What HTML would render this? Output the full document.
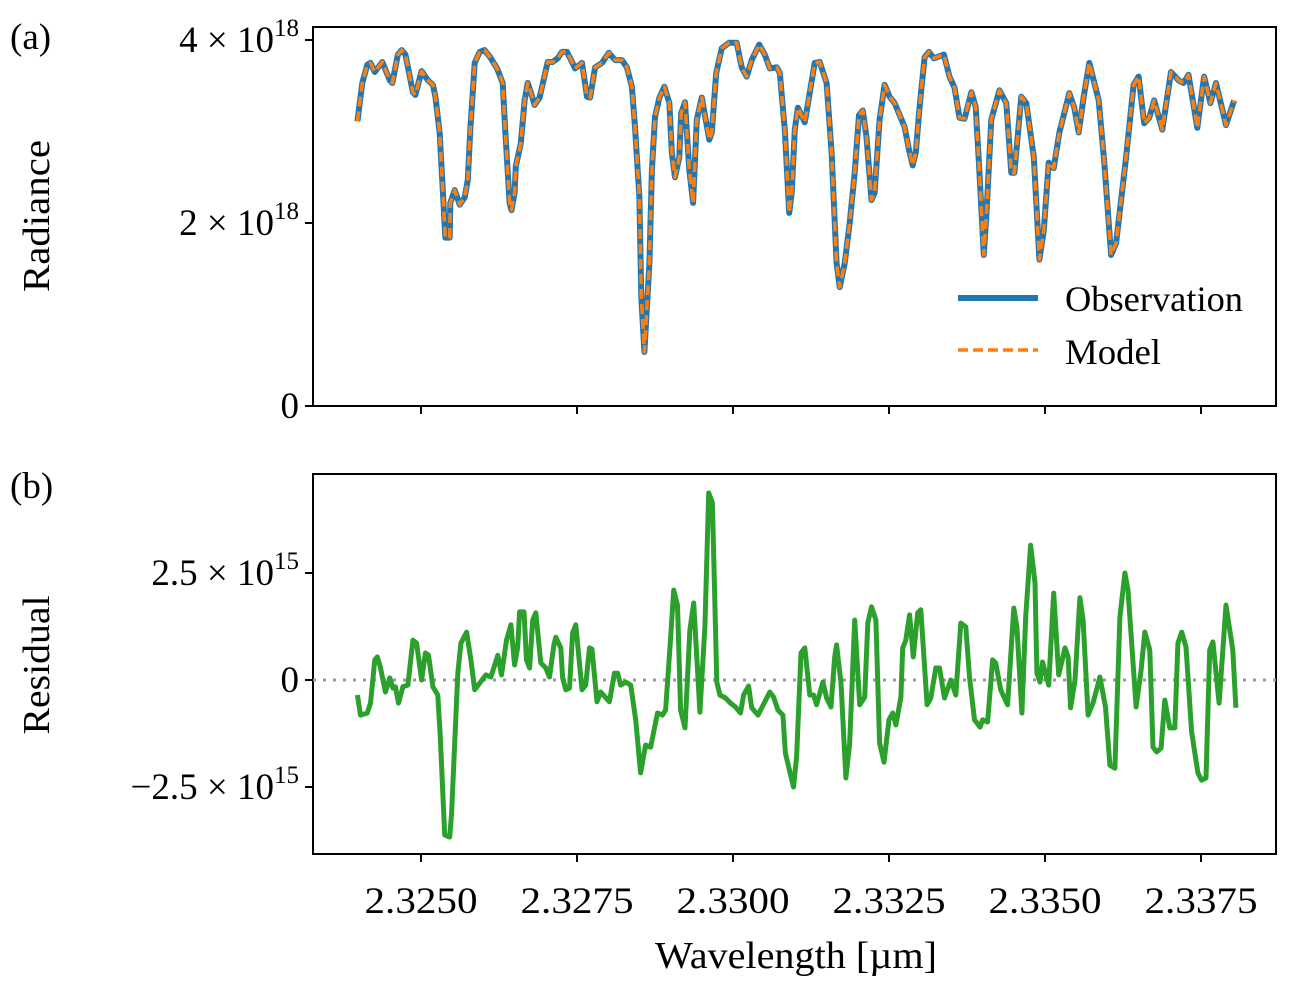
<!DOCTYPE html>
<html><head><meta charset="utf-8"><style>
body{margin:0;background:#fff;}
svg{display:block;font-family:"Liberation Serif",serif;}
</style></head><body>
<svg id="chart" width="1292" height="990" viewBox="0 0 1292 990" xmlns="http://www.w3.org/2000/svg">
<text x="10" y="49" font-size="37">(a)</text>
<text x="10" y="498" font-size="37">(b)</text>
<text transform="translate(49,216) rotate(-90)" text-anchor="middle" font-size="38" textLength="152" lengthAdjust="spacingAndGlyphs">Radiance</text>
<text transform="translate(49,665) rotate(-90)" text-anchor="middle" font-size="38" textLength="139" lengthAdjust="spacingAndGlyphs">Residual</text>
<text x="796" y="968" text-anchor="middle" font-size="38" textLength="282" lengthAdjust="spacingAndGlyphs">Wavelength [µm]</text>
<g id="gtop"></g>
<g id="gbot"></g>
<g>
<line x1="958" y1="298" x2="1038" y2="298" stroke="#1f77b4" stroke-width="6"/>
<text x="1065" y="311" font-size="36" textLength="178" lengthAdjust="spacingAndGlyphs">Observation</text>
<line x1="958" y1="350" x2="1038" y2="350" stroke="#ff7f0e" stroke-width="3.5" stroke-dasharray="10,5"/>
<text x="1065" y="364" font-size="36" textLength="96" lengthAdjust="spacingAndGlyphs">Model</text>
</g>
</svg>
<script>
const obsWl=[2.32398,2.32406,2.32414,2.32419,2.32426,2.32438,2.32450,2.32454,2.32463,2.32469,2.32475,2.32487,2.32491,2.32501,2.32511,2.32519,2.32523,2.32530,2.32535,2.32539,2.32546,2.32547,2.32554,2.32562,2.32570,2.32575,2.32579,2.32586,2.32594,2.32602,2.32611,2.32622,2.32631,2.32635,2.32642,2.32645,2.32650,2.32652,2.32660,2.32666,2.32671,2.32676,2.32682,2.32690,2.32703,2.32711,2.32719,2.32726,2.32734,2.32742,2.32747,2.32758,2.32766,2.32771,2.32779,2.32790,2.32801,2.32811,2.32822,2.32830,2.32838,2.32843,2.32850,2.32853,2.32858,2.32866,2.32870,2.32875,2.32882,2.32890,2.32898,2.32902,2.32907,2.32914,2.32917,2.32923,2.32930,2.32936,2.32942,2.32950,2.32962,2.32966,2.32973,2.32982,2.32994,2.33006,2.33014,2.33022,2.33030,2.33042,2.33051,2.33059,2.33070,2.33075,2.33083,2.33090,2.33094,2.33099,2.33104,2.33115,2.33122,2.33131,2.33139,2.33150,2.33158,2.33166,2.33171,2.33179,2.33187,2.33195,2.33202,2.33208,2.33214,2.33222,2.33227,2.33235,2.33243,2.33251,2.33259,2.33275,2.33282,2.33288,2.33293,2.33299,2.33307,2.33314,2.33322,2.33338,2.33347,2.33355,2.33363,2.33371,2.33382,2.33389,2.33394,2.33402,2.33406,2.33414,2.33427,2.33438,2.33446,2.33451,2.33462,2.33470,2.33482,2.33491,2.33498,2.33506,2.33514,2.33523,2.33539,2.33547,2.33554,2.33562,2.33571,2.33586,2.33595,2.33606,2.33614,2.33630,2.33642,2.33650,2.33659,2.33667,2.33675,2.33688,2.33702,2.33714,2.33722,2.33730,2.33744,2.33755,2.33765,2.33774,2.33790,2.33803];
const obsRad=[3.11,3.53,3.73,3.75,3.65,3.76,3.56,3.53,3.84,3.89,3.84,3.43,3.40,3.66,3.56,3.51,3.38,2.98,2.36,1.84,1.84,2.22,2.36,2.20,2.28,2.47,3.02,3.75,3.87,3.89,3.81,3.69,3.53,3.02,2.22,2.14,2.33,2.62,2.87,3.34,3.53,3.43,3.29,3.37,3.76,3.76,3.80,3.87,3.87,3.76,3.69,3.75,3.38,3.37,3.70,3.75,3.86,3.78,3.78,3.70,3.49,3.05,2.28,1.19,0.59,1.56,2.58,3.16,3.37,3.49,3.31,2.77,2.50,2.72,3.20,3.32,2.58,2.22,3.13,3.37,2.91,2.99,3.64,3.91,3.97,3.97,3.70,3.60,3.78,3.95,3.84,3.69,3.70,3.64,3.02,2.11,2.33,3.02,3.26,3.10,3.38,3.75,3.76,3.53,2.77,1.56,1.30,1.56,2.00,2.55,3.18,3.23,2.94,2.25,2.33,3.13,3.51,3.38,3.31,3.05,2.80,2.63,2.77,3.27,3.81,3.87,3.80,3.84,3.60,3.48,3.15,3.14,3.43,3.27,2.66,1.65,2.07,3.13,3.45,3.31,2.55,2.55,3.38,3.31,2.72,1.60,1.92,2.66,2.60,2.99,3.42,3.26,2.99,3.38,3.75,3.34,2.66,1.65,1.78,2.72,3.51,3.60,3.09,3.15,3.34,3.02,3.65,3.56,3.53,3.62,3.04,3.60,3.31,3.53,3.07,3.34];
const modelRad=obsRad.slice();
const resWl=[2.32398,2.32403,2.32414,2.32419,2.32426,2.32430,2.32435,2.32443,2.32450,2.32455,2.32459,2.32464,2.32471,2.32479,2.32487,2.32493,2.32501,2.32507,2.32512,2.32519,2.32527,2.32531,2.32538,2.32546,2.32549,2.32559,2.32564,2.32573,2.32580,2.32586,2.32604,2.32612,2.32623,2.32629,2.32637,2.32644,2.32650,2.32655,2.32658,2.32665,2.32669,2.32674,2.32679,2.32684,2.32692,2.32700,2.32706,2.32713,2.32716,2.32724,2.32727,2.32732,2.32738,2.32743,2.32748,2.32758,2.32764,2.32770,2.32774,2.32782,2.32788,2.32802,2.32810,2.32815,2.32820,2.32828,2.32836,2.32844,2.32852,2.32860,2.32868,2.32879,2.32887,2.32892,2.32899,2.32905,2.32911,2.32916,2.32923,2.32931,2.32937,2.32947,2.32955,2.32961,2.32967,2.32974,2.32979,2.32988,2.32996,2.33004,2.33012,2.33017,2.33025,2.33030,2.33040,2.33059,2.33065,2.33072,2.33080,2.33084,2.33097,2.33102,2.33109,2.33115,2.33123,2.33129,2.33134,2.33144,2.33150,2.33157,2.33163,2.33166,2.33173,2.33181,2.33187,2.33195,2.33203,2.33211,2.33216,2.33222,2.33229,2.33235,2.33242,2.33250,2.33256,2.33261,2.33269,2.33272,2.33277,2.33283,2.33289,2.33296,2.33301,2.33311,2.33317,2.33325,2.33331,2.33339,2.33349,2.33357,2.33365,2.33373,2.33379,2.33387,2.33396,2.33400,2.33408,2.33416,2.33421,2.33429,2.33440,2.33450,2.33455,2.33463,2.33469,2.33477,2.33484,2.33487,2.33492,2.33496,2.33506,2.33514,2.33522,2.33532,2.33537,2.33541,2.33548,2.33556,2.33561,2.33569,2.33577,2.33588,2.33597,2.33604,2.33612,2.33620,2.33628,2.33633,2.33646,2.33654,2.33660,2.33668,2.33673,2.33679,2.33686,2.33692,2.33700,2.33708,2.33713,2.33719,2.33726,2.33735,2.33745,2.33751,2.33758,2.33764,2.33769,2.33779,2.33790,2.33801,2.33806];
const resVal=[-0.35,-0.82,-0.77,-0.54,0.47,0.54,0.30,-0.28,0.05,-0.19,-0.16,-0.54,-0.16,-0.12,0.93,0.86,0.00,0.63,0.58,-0.16,-0.35,-1.33,-3.62,-3.67,-3.11,0.16,0.86,1.12,0.47,-0.23,0.12,0.07,0.58,0.12,0.93,1.29,0.35,0.77,1.59,1.59,0.47,0.28,1.40,1.57,0.40,0.28,0.07,0.82,1.00,0.75,0.05,-0.23,-0.19,1.10,1.29,-0.23,-0.12,0.75,0.72,-0.51,-0.28,-0.51,0.16,0.16,-0.12,-0.05,-0.12,-0.93,-2.17,-1.52,-1.57,-0.77,-0.82,-0.70,0.77,2.10,1.75,-0.70,-1.12,1.17,1.80,-0.75,1.24,4.37,4.14,-0.05,-0.35,-0.42,-0.54,-0.63,-0.77,-0.35,-0.14,-0.65,-0.82,-0.28,-0.40,-0.70,-0.82,-1.71,-2.50,-1.80,0.63,0.75,-0.35,-0.35,-0.58,-0.05,-0.42,-0.63,0.54,0.82,-0.07,-2.29,-1.47,1.40,-0.58,-0.40,1.33,1.71,1.40,-1.47,-1.92,-0.93,-0.77,-1.05,-0.40,0.75,0.93,1.52,0.54,1.57,1.64,-0.58,-0.42,0.28,0.28,-0.42,0.00,-0.35,1.33,1.24,0.07,-0.93,-1.10,-0.93,-0.98,0.47,0.40,-0.23,-0.58,1.68,1.24,-0.77,1.47,3.15,2.27,0.16,-0.05,0.42,-0.12,2.03,0.12,0.75,0.54,-0.65,0.00,1.92,1.40,-0.82,-0.54,0.07,-0.63,-1.99,-2.06,1.47,2.50,2.10,-0.63,0.23,1.12,0.70,-1.57,-1.68,-1.59,-0.47,-1.12,-1.12,0.86,1.12,0.77,-1.21,-2.17,-2.34,-2.29,0.70,0.89,-0.54,1.75,0.70,-0.65];
const xTicks=[2.3250,2.3275,2.3300,2.3325,2.3350,2.3375];
const xTickLabels=["2.3250","2.3275","2.3300","2.3325","2.3350","2.3375"];
const topTicks=[0,2,4];
const topTickMant=["0","2","4"];
const botTicks=[-2.5,0,2.5];
const botTickMant=["\u22122.5","0","2.5"];

const NS="http://www.w3.org/2000/svg";
const L=313,R=1276,T1=27,B1=406,T2=474,B2=854;
const xs=w=>421+(w-2.3250)*62400;
const y1=v=>406-v*91.5;
const y2=v=>680-v*42.8;
function mk(tag,attrs,parent){const e=document.createElementNS(NS,tag);for(const k in attrs)e.setAttribute(k,attrs[k]);parent.appendChild(e);return e;}
const gTop=document.getElementById('gtop'),gBot=document.getElementById('gbot');

function frame(g,T,B,name){
  const r=mk('rect',{x:L,y:T,width:R-L,height:B-T,fill:'none',stroke:'#000','stroke-width':2},g);
  
  
  xTicks.forEach(t=>{
    const l=mk('line',{x1:xs(t),x2:xs(t),y1:B,y2:B+8,stroke:'#000','stroke-width':2},g);
    
    
  });
}
frame(gTop,T1,B1,'radiance-axes-frame');
frame(gBot,T2,B2,'residual-axes-frame');

xTicks.forEach((t,i)=>{
  const tx=mk('text',{x:xs(t),y:913,'text-anchor':'middle','font-size':37,textLength:113,lengthAdjust:'spacingAndGlyphs'},gBot);
  tx.textContent=xTickLabels[i];
  
  
});

function ytick(g,ypx,mant,exp){
  const l=mk('line',{x1:L-8,x2:L,y1:ypx,y2:ypx,stroke:'#000','stroke-width':2},g);
  
  
  const tx=mk('text',{x:L-14,y:ypx+12,'text-anchor':'end','font-size':37},g);
  
  
  if(exp){
    tx.appendChild(document.createTextNode(mant+" \u00d7 10"));
    const s=mk('tspan',{'font-size':25,dy:-16},tx);s.textContent=exp;
  } else tx.textContent=mant;
}
topTicks.forEach((t,i)=>ytick(gTop,y1(t),topTickMant[i],t===0?null:"18"));
botTicks.forEach((t,i)=>ytick(gBot,y2(t),botTickMant[i],t===0?null:"15"));

function path(xsArr,ysArr,fx,fy){return xsArr.map((w,i)=>(i?'L':'M')+fx(w).toFixed(1)+','+fy(ysArr[i]).toFixed(1)).join('');}

const obs=mk('path',{d:path(obsWl,obsRad,xs,y1),fill:'none',stroke:'#1f77b4','stroke-width':6,'stroke-linejoin':'round'},gTop);


const mod=mk('path',{d:path(obsWl,modelRad,xs,y1),fill:'none',stroke:'#ff7f0e','stroke-width':3.5,'stroke-dasharray':'10,5','stroke-linejoin':'round'},gTop);



const zl=mk('line',{x1:L,x2:R,y1:y2(0),y2:y2(0),stroke:'#999','stroke-width':3,'stroke-dasharray':'3,7'},gBot);


const res=mk('path',{d:path(resWl,resVal,xs,y2),fill:'none',stroke:'#2ca02c','stroke-width':5,'stroke-linejoin':'round'},gBot);


</script>
</body></html>
